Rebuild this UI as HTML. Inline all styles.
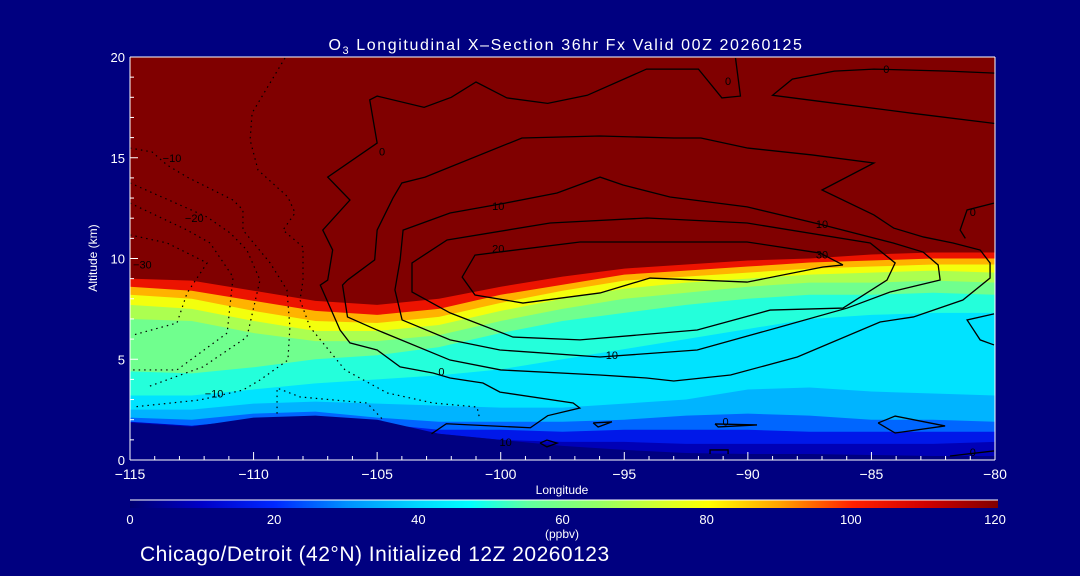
<!DOCTYPE html>
<html><head><meta charset="utf-8">
<style>
html,body{margin:0;padding:0;background:#000080;}
body{width:1080px;height:576px;overflow:hidden;font-family:"Liberation Sans",sans-serif;}
svg{display:block}
</style></head>
<body>
<svg id="chart" width="1080" height="576" viewBox="0 0 1080 576" xmlns="http://www.w3.org/2000/svg">
<rect x="0" y="0" width="1080" height="576" fill="#000080"/>
<g id="field"></g>
<g id="contours"></g>
<g id="axes"></g>
<g id="cbar"></g>
<text x="566" y="50" fill="#fff" font-size="16" letter-spacing="1.6" text-anchor="middle">O<tspan font-size="11" dy="4">3</tspan><tspan dy="-4"> Longitudinal X–Section 36hr  Fx Valid 00Z 20260125</tspan></text>
<text x="97" y="258" fill="#fff" font-size="12" text-anchor="middle" transform="rotate(-90 97 258)">Altitude (km)</text>
<text x="562" y="494" fill="#fff" font-size="12" text-anchor="middle">Longitude</text>
<text x="562" y="538" fill="#fff" font-size="12" text-anchor="middle">(ppbv)</text>
<text x="140" y="561" fill="#fff" font-size="21" letter-spacing="0.5">Chicago/Detroit (42°N) Initialized 12Z 20260123</text>
</svg>
<script>
const lons = [-115,-112.5,-110,-107.5,-105,-102.5,-100,-97.5,-95,-92.5,-90,-87.5,-85,-82.5,-80];
const bandLevels = [16,26,35,42,50,58,68,78,88,104,120];
const h16  = [1.9,1.7,2.0,2.1,1.8,1.3,1.0,0.9,0.9,0.8,0.8,0.8,0.8,0.8,0.9];
const h26  = [1.9,1.7,2.0,2.1,1.8,1.5,1.5,1.4,1.5,1.5,1.5,1.4,1.4,1.4,1.4];
const h35  = [2.1,2.0,2.3,2.4,2.1,1.9,1.9,1.9,2.0,2.2,2.3,2.2,2.0,2.0,1.9];
const h42  = [2.5,2.5,2.8,2.9,2.8,2.7,2.6,2.6,2.8,3.0,3.5,3.6,3.4,3.3,3.2];
const h50  = [3.2,3.2,3.5,3.8,4.0,4.2,4.5,5.0,5.5,6.0,6.5,7.0,7.2,7.3,7.3];
const h58  = [4.4,4.3,4.6,5.0,5.2,5.6,6.3,6.9,7.3,7.7,8.0,8.2,8.2,8.3,8.2];
const h68  = [7.0,6.9,6.3,5.9,5.9,6.2,6.9,7.5,8.0,8.3,8.6,8.8,8.8,8.9,8.8];
const h78  = [7.7,7.5,6.9,6.4,6.4,6.7,7.4,8.0,8.5,8.8,9.0,9.2,9.3,9.4,9.3];
const h88  = [8.2,8.0,7.4,6.9,6.8,7.1,7.8,8.4,8.9,9.1,9.3,9.5,9.6,9.7,9.7];
const h104 = [8.6,8.4,7.9,7.4,7.2,7.5,8.2,8.7,9.2,9.4,9.6,9.8,9.9,10.0,10.0];
const h120 = [9.0,8.9,8.4,7.9,7.7,8.0,8.6,9.1,9.5,9.7,9.9,10.0,10.2,10.3,10.3];
const terrain = [1.85,1.65,2.1,2.2,2.0,1.3,1.0,0.7,0.5,0.35,0.3,0.3,0.25,0.2,0.2];
const xTicks = [-115,-110,-105,-100,-95,-90,-85,-80];
const yTicks = [0,5,10,15,20];
const cbTicks = [0,20,40,60,80,100,120];

const contourSolid = [
 [[-90.5,19.95],[-90.3,18.06],[-91.05,17.97],[-92.0,19.4],[-94.1,19.4],[-96.5,18.1],[-98.1,17.7],[-99.75,17.97],[-101.0,18.76],[-102.0,18.0],[-103.1,17.5],[-105.0,18.06],[-105.3,17.87],[-105.0,15.73],[-107.0,14.04],[-106.1,12.9],[-107.2,11.41],[-106.8,10.42],[-107.0,8.93],[-107.3,8.68],[-106.5,6.45],[-106.1,5.81],[-105.0,5.46],[-104.07,4.62],[-102.74,4.32],[-102.05,4.07],[-100.72,3.82],[-100.03,3.37],[-97.07,2.83],[-96.8,2.58],[-98.1,2.2],[-98.8,1.6],[-102.2,1.8],[-102.8,1.3]],
 [[-106.2,8.93],[-105.1,9.93],[-105.0,11.41],[-104.36,13.0],[-104.0,13.75],[-103.06,14.04],[-99.14,15.98],[-96.0,16.08],[-93.0,15.98],[-91.9,15.98],[-90.0,15.48],[-87.4,15.14],[-84.9,14.74],[-87.0,13.4],[-84.9,12.16],[-84.1,11.51],[-82.9,11.07],[-81.7,10.77],[-80.6,10.42],[-80.2,9.78],[-80.2,9.03],[-81.3,7.94],[-83.3,7.1],[-84.65,6.85],[-88.0,5.11],[-90.7,4.22],[-93.0,3.92],[-94.1,4.07],[-96.0,4.22],[-100.0,4.47],[-102.05,4.96],[-105.0,6.45],[-106.2,7.1],[-106.4,8.68],[-106.2,8.93]],
 [[-104.07,9.93],[-103.95,11.41],[-102.05,12.26],[-99.82,12.75],[-97.72,13.25],[-95.98,14.04],[-95.05,13.65],[-93.15,13.05],[-90.03,12.56],[-86.96,11.66],[-84.12,10.77],[-82.91,10.32],[-82.3,9.68],[-82.22,8.93],[-84.24,8.34],[-85.98,7.54],[-88.7,6.6],[-92.05,5.46],[-95.98,5.11],[-100.03,5.46],[-102.05,5.96],[-103.99,6.95],[-104.28,8.44],[-104.07,9.93]],
 [[-103.59,8.93],[-103.59,9.78],[-102.17,10.92],[-98.0,11.76],[-94.08,12.01],[-90.03,11.76],[-85.05,10.77],[-84.04,9.78],[-84.37,8.93],[-86.15,7.54],[-89.1,7.44],[-92.05,6.45],[-96.79,5.96],[-99.5,6.1],[-102.05,7.3],[-103.59,8.34],[-103.59,8.93]],
 [[-86.15,9.68],[-87.08,10.27],[-90.03,10.82],[-96.79,10.82],[-101.04,10.17],[-101.56,9.08],[-101.04,8.19],[-99.1,7.79],[-95.98,8.29],[-93.96,9.03],[-90.03,8.83],[-86.96,9.58],[-86.15,9.68]],
 [[-80,19.2],[-81.9,19.3],[-84.9,19.4],[-86.5,19.3],[-88.2,18.9],[-89.0,18.1],[-87.1,17.8],[-83.3,17.2],[-80,16.7]],
 [[-80.04,12.75],[-81.13,12.41],[-81.41,11.41],[-81.2,11.0]],
 [[-80.04,7.25],[-81.13,6.95],[-80.6,5.96],[-80.04,5.71]],
 [[-96.26,1.84],[-95.5,1.89],[-96.06,1.64],[-96.26,1.84]],
 [[-91.33,1.79],[-89.63,1.74],[-91.2,1.64],[-91.33,1.79]],
 [[-84.73,1.84],[-84.04,2.18],[-82.02,1.69],[-84.04,1.34],[-84.73,1.84]],
 [[-81.82,0.2],[-80.04,0.45]],
 [[-91.53,0.3],[-91.53,0.5],[-90.8,0.5],[-90.8,0.3]],
 [[-98.41,0.84],[-98.13,0.99],[-97.72,0.84],[-98.13,0.65],[-98.41,0.84]]
];
const contourDotted = [
 [[-108.73,19.95],[-110.06,17.22],[-110.14,15.88],[-109.82,14.39],[-108.61,13.05],[-108.32,12.26],[-108.81,11.41],[-108.0,10.57],[-108.0,8.93],[-108.12,7.94],[-107.72,6.6],[-106.3,4.47],[-104.6,3.33],[-102.74,2.83],[-100.96,2.63],[-100.84,1.99]],
 [[-115,15.48],[-114.11,15.29],[-113.5,14.64],[-112.69,14.04],[-110.83,12.9],[-110.43,12.41],[-110.43,11.41],[-109.33,9.78],[-108.65,8.44],[-108.53,6.6],[-108.61,4.96],[-109.74,3.97],[-110.43,3.47],[-112.17,2.98],[-114.88,2.63]],
 [[-115,13.75],[-111.88,12.06],[-110.95,11.27],[-110.27,10.42],[-109.74,8.93],[-110.27,6.1],[-112.05,4.62],[-114.31,3.62]],
 [[-115,12.75],[-112.69,11.41],[-111.76,10.77],[-110.83,9.08],[-111.07,6.3],[-113.1,4.47],[-114.88,4.47]],
 [[-115,11.17],[-113.5,10.77],[-111.88,9.78],[-112.69,8.29],[-113.1,6.8],[-114.88,6.2]],
 [[-109.05,2.3],[-109.05,3.57],[-108.12,3.13],[-105.41,2.83],[-104.76,1.99]]
];
const contourLabels = [["0",-104.8,15.3],["0",-90.8,18.8],["0",-84.4,19.4],["0",-80.9,12.3],["10",-100.1,12.6],["10",-87.0,11.7],["20",-100.1,10.5],["30",-87.0,10.2],["10",-95.5,5.2],["0",-102.4,4.4],["0",-90.9,1.9],["0",-80.9,0.4],["−10",-113.3,15.0],["−20",-112.4,12.0],["−30",-114.5,9.7],["−10",-111.6,3.3],["10",-99.8,0.9]];

const X0=130,X1=995,Y0=460,Y1=57;
function xs(l){return X0+(l+115)/35*(X1-X0);}
function ys(a){return Y0-a/20*(Y0-Y1);}
const stops=[[0,[0,0,112]],[10,[0,0,200]],[20,[0,40,255]],[30,[0,144,255]],[40,[0,216,255]],[47,[0,255,255]],[55,[96,255,160]],[65,[150,255,100]],[75,[224,255,32]],[80,[255,255,0]],[90,[255,160,0]],[100,[255,32,0]],[110,[208,0,0]],[120,[128,0,0]]];
function color(v){
  for(let i=0;i<stops.length-1;i++){const a=stops[i],b=stops[i+1];
    if(v<=b[0]){const t=(v-a[0])/(b[0]-a[0]);const c=a[1].map((q,k)=>Math.round(q+(b[1][k]-q)*t));return `rgb(${c[0]},${c[1]},${c[2]})`;}}
  return 'rgb(128,0,0)';
}
const NS="http://www.w3.org/2000/svg";
function mk(tag,attrs,parent){const e=document.createElementNS(NS,tag);for(const k in attrs)e.setAttribute(k,attrs[k]);parent.appendChild(e);return e;}
const field=document.getElementById('field');
let base=mk('rect',{x:X0,y:Y1,width:X1-X0,height:Y0-Y1,fill:color(8)},field);


const bandHeights=[h16,h26,h35,h42,h50,h58,h68,h78,h88,h104,h120];
bandLevels.forEach((lv,i)=>{
  const h=bandHeights[i];
  let d=`M${xs(lons[0])},${ys(20)} `+lons.map((l,j)=>`L${xs(l)},${ys(h[j])}`).join(' ')+` L${xs(lons[lons.length-1])},${ys(20)} Z`;
  const p=mk('path',{d:d,fill:color(lv)},field);
  
  
});
{
  let d=`M${xs(lons[0])},${ys(0)} `+lons.map((l,j)=>`L${xs(l)},${ys(terrain[j])}`).join(' ')+` L${xs(lons[lons.length-1])},${ys(0)} Z`;
  const p=mk('path',{d:d,fill:'#000080'},field);
  
  
}
const cg=document.getElementById('contours');
contourSolid.forEach((c,i)=>{
  const p=mk('polyline',{points:c.map(q=>xs(q[0])+','+ys(q[1])).join(' '),fill:'none',stroke:'#000','stroke-width':1.3},cg);
  
  
});
contourDotted.forEach((c,i)=>{
  const p=mk('polyline',{points:c.map(q=>xs(q[0])+','+ys(q[1])).join(' '),fill:'none',stroke:'#000','stroke-width':1.2,'stroke-dasharray':'1.5 4'},cg);
  
  
});
contourLabels.forEach(c=>{
  const t=mk('text',{x:xs(c[1]),y:ys(c[2])+4,'font-size':11,fill:'#000','text-anchor':'middle'},cg);
  t.textContent=c[0];
  
  
});
const ax=document.getElementById('axes');
[[X0,Y0,X1,Y0],[X0,Y1,X1,Y1],[X1,Y1,X1,Y0],[X0,Y1,X0,Y0]].forEach(s=>{
  const l=mk('line',{x1:s[0],y1:s[1],x2:s[2],y2:s[3],stroke:'#fff','stroke-width':1},ax);
  
  
});
for(let l=-115;l<=-80;l++){
  const major=xTicks.includes(l);
  const t=mk('line',{x1:xs(l),y1:Y0,x2:xs(l),y2:Y0-(major?8:4),stroke:'#fff'},ax);
  
  
}
xTicks.forEach(l=>{
  const t=mk('text',{x:xs(l),y:479,'font-size':14,fill:'#fff','text-anchor':'middle'},ax);
  t.textContent=(l<0?'−':'')+Math.abs(l);
  
  
});
for(let a=0;a<=20;a++){
  const major=yTicks.includes(a);
  const t=mk('line',{x1:X0,y1:ys(a),x2:X0+(major?8:4),y2:ys(a),stroke:'#fff'},ax);
  
  
}
yTicks.forEach(a=>{
  const t=mk('text',{x:125,y:ys(a)+5,'font-size':13,fill:'#fff','text-anchor':'end'},ax);
  t.textContent=a;
  
  
});
const cb=document.getElementById('cbar');
const defs=mk('defs',{},cb);
const grad=mk('linearGradient',{id:'cbg',x1:0,x2:1,y1:0,y2:0},defs);
stops.forEach(s=>{mk('stop',{offset:(s[0]/120),'stop-color':color(s[0])},grad);});
const cbr=mk('rect',{x:130,y:500,width:868,height:8,fill:'url(#cbg)'},cb);


const cbl=mk('line',{x1:130,y1:500,x2:998,y2:500,stroke:'#fff'},cb);


cbTicks.forEach(v=>{
  const t=mk('text',{x:130+v/120*865,y:524,'font-size':13,fill:'#fff','text-anchor':'middle'},cb);
  t.textContent=v;
  
  
});
</script>
</body></html>
